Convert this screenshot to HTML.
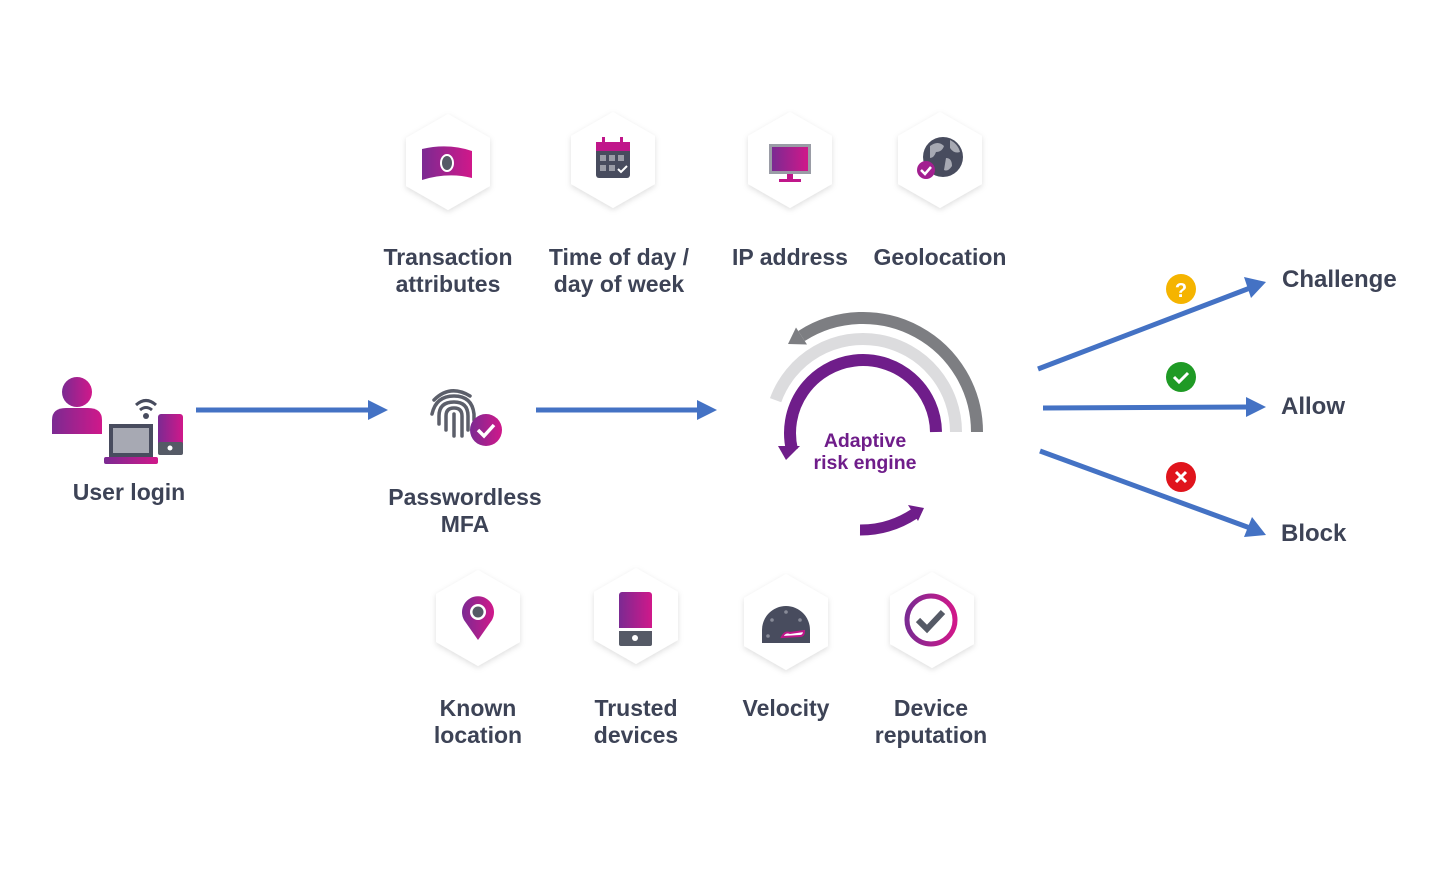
<!DOCTYPE html>
<html><head><meta charset="utf-8"><style>
html,body{margin:0;padding:0;background:#fff;}
svg{display:block;}
text{font-family:"Liberation Sans",sans-serif;font-weight:bold;fill:#3d4356;}
</style></head><body>
<svg width="1440" height="870" viewBox="0 0 1440 870" xmlns="http://www.w3.org/2000/svg">
<defs>
<linearGradient id="pg" x1="0" x2="1" y1="0" y2="0"><stop offset="0" stop-color="#7b2a92"/><stop offset="1" stop-color="#d0188a"/></linearGradient>
<filter id="sh" x="-30%" y="-30%" width="160%" height="160%"><feDropShadow dx="0" dy="2" stdDeviation="3" flood-color="#000" flood-opacity="0.13"/></filter>
<g id="hex"><polygon points="0,-48 42,-24 42,24 0,48 -42,24 -42,-24" fill="#fff" filter="url(#sh)"/></g>
</defs>

<use href="#hex" x="448" y="162"/>
<use href="#hex" x="613" y="160"/>
<use href="#hex" x="790" y="160"/>
<use href="#hex" x="940" y="160"/>
<use href="#hex" x="478" y="618"/>
<use href="#hex" x="636" y="616"/>
<use href="#hex" x="786" y="622"/>
<use href="#hex" x="932" y="620"/>

<path d="M422 149 Q448 143 472 151 L472 178 Q448 172 422 180 Z" fill="url(#pg)"/>
<ellipse cx="447" cy="163" rx="7" ry="9" fill="#fff"/><ellipse cx="447" cy="163" rx="5" ry="7" fill="#555a66"/>
<rect x="596" y="142" width="34" height="36" rx="3" fill="#484c5e"/>
<rect x="596" y="142" width="34" height="9" fill="#c0168a"/>
<rect x="602" y="137" width="3" height="9" fill="#c0168a"/><rect x="620" y="137" width="3" height="9" fill="#c0168a"/>
<g fill="#9a9ca6"><rect x="600" y="155" width="6" height="6"/><rect x="609" y="155" width="6" height="6"/><rect x="618" y="155" width="6" height="6"/><rect x="600" y="165" width="6" height="6"/><rect x="609" y="165" width="6" height="6"/></g>
<path d="M618 169 l3 3 l6 -6" stroke="#fff" stroke-width="2" fill="none"/>
<rect x="769" y="144" width="42" height="30" fill="#9a9ca6"/><rect x="772" y="147" width="36" height="24" fill="url(#pg)"/>
<rect x="787" y="174" width="6" height="5" fill="#c0168a"/><rect x="779" y="179" width="22" height="3" fill="#c0168a"/>
<circle cx="943" cy="157" r="20" fill="#484c5e"/>
<path d="M930 146 q8 -6 14 0 q-2 6 -8 6 q-2 6 -6 6 z M946 158 q6 0 6 8 q-4 6 -8 4 z M950 140 q8 4 10 12 q-6 2 -10 -4 z" fill="#a7a9b3"/>
<circle cx="926" cy="170" r="9" fill="#a21f90"/><path d="M921 170 l4 4 l6 -7" stroke="#fff" stroke-width="2.5" fill="none"/>

<path d="M478 640 L464 620 A16 16 0 1 1 492 620 Z" fill="url(#pg)"/>
<circle cx="478" cy="612" r="8" fill="#fff"/><circle cx="478" cy="612" r="5.5" fill="#555a66"/>
<rect x="619" y="592" width="33" height="54" rx="3" fill="url(#pg)"/>
<rect x="619" y="630" width="33" height="16" rx="2" fill="#555a66"/><rect x="619" y="628" width="33" height="3" fill="#fff"/>
<circle cx="635" cy="638" r="3" fill="#fff"/>
<path d="M762 643 L762 630 A24 24 0 0 1 810 630 L810 643 Z" fill="#484c5e"/>
<g fill="#888b98"><circle cx="772" cy="620" r="1.8"/><circle cx="786" cy="612" r="1.8"/><circle cx="800" cy="620" r="1.8"/><circle cx="768" cy="636" r="1.8"/></g>
<path d="M782 637 q3 -6 8 -4 l14 -2 q0 5 -4 5 z" fill="#fff" stroke="#c0168a" stroke-width="2"/>
<circle cx="931" cy="620" r="24" fill="none" stroke="url(#pg)" stroke-width="5"/>
<path d="M918 620 l9 9 l16 -17" stroke="#555a66" stroke-width="6" fill="none"/>

<circle cx="77" cy="392" r="15" fill="url(#pg)"/>
<path d="M52 434 L52 420 Q52 408 66 408 L88 408 Q102 408 102 420 L102 434 Z" fill="url(#pg)"/>
<path d="M136 405 q10 -9 20 0 M140 410 q6 -5 12 0" stroke="#484c5e" stroke-width="3" fill="none"/><circle cx="146" cy="416" r="3" fill="#484c5e"/>
<rect x="109" y="424" width="44" height="33" fill="#484c5e"/><rect x="113" y="428" width="36" height="25" fill="#a7a9b3"/>
<rect x="104" y="457" width="54" height="7" rx="2" fill="url(#pg)"/>
<rect x="158" y="414" width="25" height="41" rx="3" fill="url(#pg)"/>
<rect x="158" y="442" width="25" height="13" rx="2" fill="#555a66"/><circle cx="170" cy="448" r="2.5" fill="#fff"/>

<g fill="none" stroke="#5c5f6a" stroke-width="3.5" stroke-linecap="round">
<path d="M434 400 q16 -16 36 -4"/>
<path d="M432 414 q4 -18 22 -18 q18 0 20 18 l0 6"/>
<path d="M439 424 l0 -8 q0 -14 15 -14 q14 0 14 14 l0 14"/>
<path d="M446 430 l0 -14 q0 -8 8 -8 q8 0 8 8 l0 20"/>
<path d="M454 414 l0 22"/>
</g>
<circle cx="486" cy="430" r="16" fill="url(#pg)"/><path d="M478 430 l6 6 l10 -11" stroke="#fff" stroke-width="3.5" fill="none"/>

<g stroke="#4472c4" stroke-width="5" fill="#4472c4">
<line x1="196" y1="410" x2="372" y2="410"/><polygon points="368,400 388,410 368,420" stroke="none"/>
<line x1="536" y1="410" x2="700" y2="410"/><polygon points="697,400 717,410 697,420" stroke="none"/>
<line x1="1038" y1="369" x2="1250" y2="288"/><polygon points="1244,277 1266,282 1251,298" stroke="none"/>
<line x1="1043" y1="408" x2="1250" y2="407"/><polygon points="1246,397 1266,407 1246,417" stroke="none"/>
<line x1="1040" y1="451" x2="1250" y2="528"/><polygon points="1252,517 1266,535 1244,537" stroke="none"/>
</g>
<circle cx="1181" cy="289" r="15" fill="#f5b400"/><text x="1181" y="297" text-anchor="middle" font-size="20" style="fill:#fff">?</text>
<circle cx="1181" cy="377" r="15" fill="#1f9a25"/><path d="M1174 377 l5 5 l9 -9" stroke="#fff" stroke-width="3" fill="none"/>
<circle cx="1181" cy="477" r="15" fill="#e0141c"/><path d="M1176 472 l10 10 M1186 472 l-10 10" stroke="#fff" stroke-width="3"/>

<!-- arcs (center 863,432) -->
<path d="M801.5 336 A114 114 0 0 1 977 432" stroke="#7d7e82" stroke-width="12" fill="none"/>
<polygon points="807,344.5 788,344 796,327.5" fill="#7d7e82"/>
<path d="M775.6 400.2 A93 93 0 0 1 956 432" stroke="#dcdcde" stroke-width="12" fill="none"/>
<path d="M792 450 A73 73 0 1 1 936 432" stroke="#6f1d8a" stroke-width="12" fill="none"/>
<polygon points="778,446 800,446 786,460" fill="#6f1d8a"/>
<path d="M860 530 A98 98 0 0 0 914 514" stroke="#6f1d8a" stroke-width="11" fill="none"/>
<polygon points="908,505 924,508 918,521" fill="#6f1d8a"/>

<g font-size="23" text-anchor="middle">
<text x="448" y="265">Transaction</text><text x="448" y="292">attributes</text>
<text x="619" y="265">Time of day /</text><text x="619" y="292">day of week</text>
<text x="790" y="265">IP address</text>
<text x="940" y="265">Geolocation</text>
<text x="129" y="500">User login</text>
<text x="465" y="505">Passwordless</text><text x="465" y="532">MFA</text>
<text x="478" y="716">Known</text><text x="478" y="743">location</text>
<text x="636" y="716">Trusted</text><text x="636" y="743">devices</text>
<text x="786" y="716">Velocity</text>
<text x="931" y="716">Device</text><text x="931" y="743">reputation</text>
<text x="865" y="447" font-size="19.5" style="fill:#6f1d8a">Adaptive</text>
<text x="865" y="469" font-size="19.5" style="fill:#6f1d8a">risk engine</text>
</g>
<g font-size="24" text-anchor="start">
<text x="1282" y="287">Challenge</text>
<text x="1281" y="414">Allow</text>
<text x="1281" y="541">Block</text>
</g>
</svg>
</body></html>
